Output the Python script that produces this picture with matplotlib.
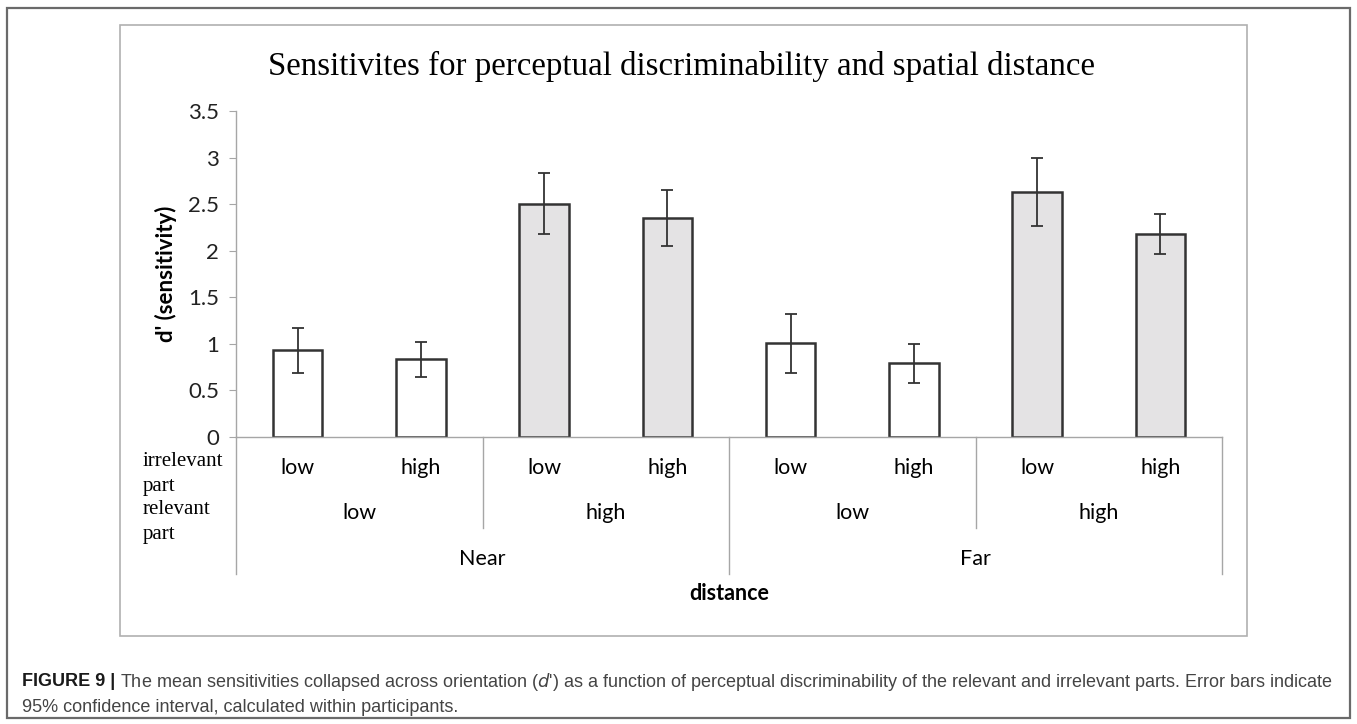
import matplotlib.pyplot as plt
from matplotlib.patches import Rectangle

# data
distance = ["Near", "Far"]
relevant = ["low", "high", "low", "high"]
irrelevant = ["low", "high", "low", "high", "low", "high", "low", "high"]
dprime = [0.93, 0.835, 2.505, 2.35, 1.005, 0.79, 2.635, 2.18]
ci_low = [0.69, 0.64, 2.18, 2.05, 0.69, 0.58, 2.27, 1.97]
ci_high = [1.17, 1.02, 2.83, 2.65, 1.32, 1.00, 3.00, 2.395]
fills = ["white", "white", "#e4e3e4", "#e4e3e4", "white", "white", "#e4e3e4", "#e4e3e4"]

W, H = 1357, 724
def fx(p): return p / W
def fy(p): return 1 - p / H

fig = plt.figure(figsize=(W / 100, H / 100), dpi=100)
cal = ["Lato", "DejaVu Sans"]
grey = "#a6a6a6"

# outer frame and inner chart box
fig.patches.append(Rectangle((fx(7), fy(718)), fx(1350) - fx(7), fy(8) - fy(718),
                             transform=fig.transFigure, fill=False, ec="#6a6a6a", lw=1.6))
fig.patches.append(Rectangle((fx(120), fy(636)), fx(1247) - fx(120), fy(25) - fy(636),
                             transform=fig.transFigure, fill=False, ec="#b0b0b0", lw=1.2))

ax_top, ax_bot = 111, 437
ax = fig.add_axes([fx(236), fy(ax_bot), fx(1222) - fx(236), fy(ax_top) - fy(ax_bot)])
def ay(p): return (ax_bot - p) / (ax_bot - ax_top)

xs = [i + 0.5 for i in range(len(dprime))]
err = [[v - lo for v, lo in zip(dprime, ci_low)], [hi - v for v, hi in zip(dprime, ci_high)]]
ax.bar(xs, dprime, width=0.4, color=fills, edgecolor="#333333", linewidth=1.8, zorder=2)
ax.errorbar(xs, dprime, yerr=err, fmt="none", ecolor="#333333", elinewidth=1.3,
            capsize=4, capthick=1.3, zorder=3)

ax.set_xlim(0, 8)
ax.set_ylim(0, 3.5)
ax.set_yticks([0, 0.5, 1, 1.5, 2, 2.5, 3, 3.5])
ax.set_yticklabels(["0", "0.5", "1", "1.5", "2", "2.5", "3", "3.5"], family=cal, fontsize=16, color="#222222")
ax.tick_params(axis="y", length=5, color=grey, pad=7)
ax.set_xticks([])
for s in ["top", "right"]:
    ax.spines[s].set_visible(False)
for s in ["left", "bottom"]:
    ax.spines[s].set_color(grey)
    ax.spines[s].set_linewidth(1.0)
ax.patch.set_visible(False)

# hierarchical category axis
tr = ax.get_xaxis_transform()
for x in [0, 4, 8]:
    ax.plot([x, x], [0, ay(574)], transform=tr, color=grey, lw=1.0, clip_on=False)
for x in [2, 6]:
    ax.plot([x, x], [0, ay(528)], transform=tr, color=grey, lw=1.0, clip_on=False)
for x, lab in zip(xs, irrelevant):
    ax.text(x, ay(468), lab, transform=tr, ha="center", va="center", family=cal, fontsize=15.5)
for i, lab in enumerate(relevant):
    ax.text(2 * i + 1, ay(513), lab, transform=tr, ha="center", va="center", family=cal, fontsize=15.5)
for i, lab in enumerate(distance):
    ax.text(4 * i + 2, ay(559), lab, transform=tr, ha="center", va="center", family=cal, fontsize=15.5)
ax.text(4, ay(594), "distance", transform=tr, ha="center", va="center", family=cal,
        fontsize=15.5, fontweight="bold")

for y, lab in zip([462, 486, 510, 535], ["irrelevant", "part", "relevant", "part"]):
    fig.text(fx(143), fy(y), lab, ha="left", va="center", family="Liberation Serif", fontsize=15)

fig.text(fx(166), fy(274), "d' (sensitivity)", rotation=90, ha="center", va="center",
         family=cal, fontsize=16, fontweight="bold")
fig.text(fx(682), fy(66), "Sensitivites for perceptual discriminability and spatial distance",
         ha="center", va="center", family="Liberation Serif", fontsize=23.7)

# caption, sized so the first line ends where the reference's does
cap = "Liberation Sans"
line1 = ("The mean sensitivities collapsed across orientation ($\\it{d}$') as a function of perceptual "
         "discriminability of the relevant and irrelevant parts. Error bars indicate")
b = fig.text(fx(22), fy(682), "FIGURE 9 |", ha="left", va="center", family=cap,
             fontsize=13, fontweight="bold", color="#1a1a1a")
rest = fig.text(0, fy(682), line1, ha="left", va="center", family=cap, fontsize=13, color="#444444")
size = 13.0
for _ in range(4):
    fig.canvas.draw()
    bb = b.get_window_extent()
    rest.set_x((bb.x1 + 5) / W)
    fig.canvas.draw()
    end = rest.get_window_extent().x1
    size = size * (1327 - 22) / (end - 22)
    b.set_fontsize(size)
    rest.set_fontsize(size)
fig.canvas.draw()
rest.set_x((b.get_window_extent().x1 + 5) / W)
fig.text(fx(22), fy(707), "95% confidence interval, calculated within participants.",
         ha="left", va="center", family=cap, fontsize=size, color="#444444")

fig.savefig("out.png", dpi=100)
